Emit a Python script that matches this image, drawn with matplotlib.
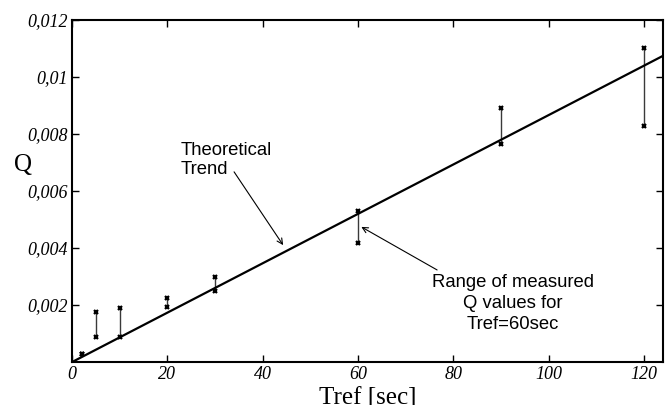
import matplotlib
matplotlib.use("Agg")
import matplotlib.pyplot as plt
import numpy as np

# Measured Q range at each reference time
tref = [2, 5, 10, 20, 30, 60, 90, 120]
q_low = [0.00028, 0.00088, 0.00088, 0.00193, 0.00249, 0.00418, 0.00765, 0.00828]
q_high = [0.00028, 0.00175, 0.0019, 0.00225, 0.00298, 0.0053, 0.00891, 0.01102]

# Theoretical linear trend Q = slope * Tref
trend_slope = 0.0000866
trend_x = [0, 125]

xticks = [0, 20, 40, 60, 80, 100, 120]
yticks = [0.002, 0.004, 0.006, 0.008, 0.010, 0.012]
ytick_labels = ["0,002", "0,004", "0,006", "0,008", "0,01", "0,012"]

fig = plt.figure(figsize=(6.67, 4.05), dpi=100)
ax = fig.add_axes([0.108, 0.106, 0.886, 0.845])

# theoretical trend
tx = np.array(trend_x, dtype=float)
ax.plot(tx, trend_slope * tx, color="black", lw=1.6, zorder=3)

# measured ranges
for x, lo, hi in zip(tref, q_low, q_high):
    ax.plot([x, x], [lo, hi], color="#3a3a3a", lw=1.0, zorder=2)
ax.plot(tref, q_low, linestyle="none", marker="x", ms=3.5, mew=1.6, color="black", zorder=4)
ax.plot(tref, q_high, linestyle="none", marker="x", ms=3.5, mew=1.6, color="black", zorder=4)

ax.set_xlim(0, 124)
ax.set_ylim(0, 0.012)

serif = "Liberation Serif"
sans = "Liberation Sans"

ax.set_xticks(xticks)
ax.set_xticklabels([str(v) for v in xticks], fontfamily=serif, fontstyle="italic", fontsize=13)
ax.set_yticks(yticks)
ax.set_yticklabels(ytick_labels, fontfamily=serif, fontstyle="italic", fontsize=13)
ax.tick_params(direction="in", length=5, width=1.0, top=True, right=True, pad=3)

for s in ax.spines.values():
    s.set_linewidth(1.5)

ax.set_xlabel("Tref [sec]", fontfamily=serif, fontsize=18, labelpad=3)
ax.set_ylabel("Q", fontfamily=serif, fontsize=18, rotation=0, ha="center", va="center")
ax.yaxis.set_label_coords(-0.083, 0.576)

arrow = dict(arrowstyle="->", color="black", lw=0.8, shrinkA=0, shrinkB=0)
ax.annotate("", xy=(44.3, 0.0041), xytext=(34.0, 0.00667), arrowprops=arrow)
ax.text(22.7, 0.00709, "Theoretical\nTrend", fontfamily=sans, fontsize=13.3,
        ha="left", va="center", linespacing=1.2)

ax.annotate("", xy=(60.7, 0.00474), xytext=(76.6, 0.00323), arrowprops=arrow)
ax.text(92.5, 0.00204, "Range of measured\nQ values for\nTref=60sec", fontfamily=sans,
        fontsize=13.3, ha="center", va="center", linespacing=1.3, multialignment="center")

fig.savefig("out.png", dpi=100)
